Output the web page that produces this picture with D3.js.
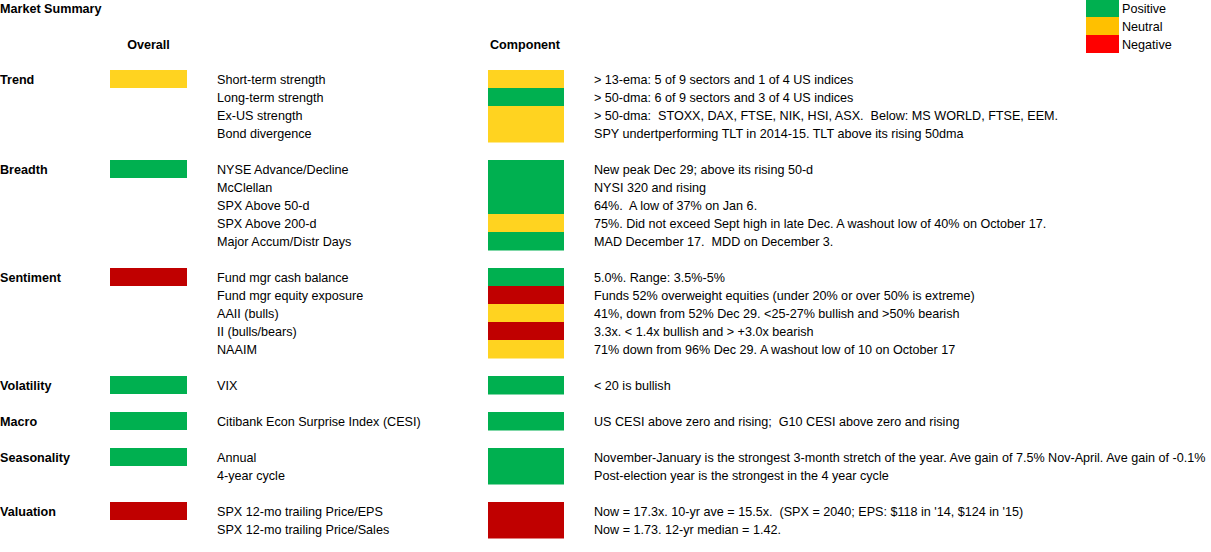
<!DOCTYPE html>
<html>
<head>
<meta charset="utf-8">
<script src="https://cdn.jsdelivr.net/npm/d3@7"></script>
<style>
  html, body { margin: 0; padding: 0; background: #fff; }
  svg { display: block; }
  text { font-family: "Liberation Sans", Arial, sans-serif; fill: #000; white-space: pre; }
</style>
</head>
<body>
<svg id="chart" width="1211" height="552"></svg>
<script>
// ---- data ----
const title = "Market Summary";
const headers = ["Overall", "Component"];
const legendLabels = ["Positive", "Neutral", "Negative"];

const categories = ["Trend", "Breadth", "Sentiment", "Volatility", "Macro", "Seasonality", "Valuation"];
const overallStatus = ["Neutral", "Positive", "Negative", "Positive", "Positive", "Positive", "Negative"];

const items = [
  ["Short-term strength", "Long-term strength", "Ex-US strength", "Bond divergence"],
  ["NYSE Advance/Decline", "McClellan", "SPX Above 50-d", "SPX Above 200-d", "Major Accum/Distr Days"],
  ["Fund mgr cash balance", "Fund mgr equity exposure", "AAII (bulls)", "II (bulls/bears)", "NAAIM"],
  ["VIX"],
  ["Citibank Econ Surprise Index (CESI)"],
  ["Annual", "4-year cycle"],
  ["SPX 12-mo trailing Price/EPS", "SPX 12-mo trailing Price/Sales"]
];

const componentStatus = [
  ["Neutral", "Positive", "Neutral", "Neutral"],
  ["Positive", "Positive", "Positive", "Neutral", "Positive"],
  ["Positive", "Negative", "Neutral", "Negative", "Neutral"],
  ["Positive"],
  ["Positive"],
  ["Positive", "Positive"],
  ["Negative", "Negative"]
];

const descriptions = [
  ["> 13-ema: 5 of 9 sectors and 1 of 4 US indices",
   "> 50-dma: 6 of 9 sectors and 3 of 4 US indices",
   "> 50-dma:  STOXX, DAX, FTSE, NIK, HSI, ASX.  Below: MS WORLD, FTSE, EEM.",
   "SPY undertperforming TLT in 2014-15. TLT above its rising 50dma"],
  ["New peak Dec 29; above its rising 50-d",
   "NYSI 320 and rising",
   "64%.  A low of 37% on Jan 6.",
   "75%. Did not exceed Sept high in late Dec. A washout low of 40% on October 17.",
   "MAD December 17.  MDD on December 3."],
  ["5.0%. Range: 3.5%-5%",
   "Funds 52% overweight equities (under 20% or over 50% is extreme)",
   "41%, down from 52% Dec 29. <25-27% bullish and >50% bearish",
   "3.3x. < 1.4x bullish and > +3.0x bearish",
   "71% down from 96% Dec 29. A washout low of 10 on October 17"],
  ["< 20 is bullish"],
  ["US CESI above zero and rising;  G10 CESI above zero and rising"],
  ["November-January is the strongest 3-month stretch of the year. Ave gain of 7.5% Nov-April. Ave gain of -0.1%",
   "Post-election year is the strongest in the 4 year cycle"],
  ["Now = 17.3x. 10-yr ave = 15.5x.  (SPX = 2040; EPS: $118 in '14, $124 in '15)",
   "Now = 1.73. 12-yr median = 1.42."]
];

// ---- build rows (one blank row between groups) ----
const rows = [];
let r = 0;
categories.forEach((cat, g) => {
  items[g].forEach((it, k) => {
    rows.push({ row: r, group: g, first: k === 0, category: cat, overall: overallStatus[g],
                item: it, status: componentStatus[g][k], desc: descriptions[g][k] });
    r++;
  });
  r++;
});
const nRows = r - 1;

// ---- scales ----
const statusColor = d3.scaleOrdinal()
  .domain(legendLabels)
  .range(["#00B050", "#FFD320", "#C00000"]);
const legendColor = d3.scaleOrdinal()
  .domain(legendLabels)
  .range(["#00B050", "#FFC000", "#FF0000"]);

const y = d3.scaleBand().domain(d3.range(nRows)).range([70, 70 + 18 * nRows]).paddingInner(0);
const col = { category: 0, overallX: 110, overallW: 77, item: 217, compX: 488, compW: 76, desc: 594 };

const svg = d3.select("#chart");
const fs = 12.6;
const dy = "0.42em";

// title
svg.append("text").attr("x", 0).attr("y", 8).attr("dy", dy)
  .attr("font-size", fs).attr("font-weight", "bold").text(title);

// column headers
svg.append("text").attr("x", col.overallX + col.overallW / 2).attr("y", 44).attr("dy", dy)
  .attr("text-anchor", "middle").attr("font-size", fs).attr("font-weight", "bold").text(headers[0]);
svg.append("text").attr("x", col.compX + col.compW / 2 - 1).attr("y", 44).attr("dy", dy)
  .attr("text-anchor", "middle").attr("font-size", fs).attr("font-weight", "bold").text(headers[1]);

// legend
const ly = d3.scaleBand().domain(legendLabels).range([-1, 53]);
const lg = svg.append("g");
lg.selectAll("rect").data(legendLabels).join("rect")
  .attr("x", 1086).attr("y", d => ly(d)).attr("width", 33).attr("height", ly.bandwidth())
  .attr("fill", d => legendColor(d));
lg.selectAll("text").data(legendLabels).join("text")
  .attr("x", 1122).attr("y", d => ly(d) + ly.bandwidth() / 2).attr("dy", dy)
  .attr("font-size", fs).text(d => d);

// category labels + overall boxes
const firsts = rows.filter(d => d.first);
svg.append("g").selectAll("text").data(firsts).join("text")
  .attr("x", col.category).attr("y", d => y(d.row) + y.bandwidth() / 2).attr("dy", dy)
  .attr("font-size", fs).attr("font-weight", "bold").text(d => d.category);
svg.append("g").selectAll("rect").data(firsts).join("rect")
  .attr("x", col.overallX).attr("y", d => y(d.row)).attr("width", col.overallW).attr("height", y.bandwidth())
  .attr("fill", d => statusColor(d.overall));

// items
svg.append("g").selectAll("text").data(rows).join("text")
  .attr("x", col.item).attr("y", d => y(d.row) + y.bandwidth() / 2).attr("dy", dy)
  .attr("font-size", fs).text(d => d.item);

// component boxes
svg.append("g").selectAll("rect").data(rows).join("rect")
  .attr("x", col.compX).attr("y", d => y(d.row)).attr("width", col.compW).attr("height", y.bandwidth() + 0.5)
  .attr("fill", d => statusColor(d.status));

// descriptions
svg.append("g").selectAll("text").data(rows).join("text")
  .attr("x", col.desc).attr("y", d => y(d.row) + y.bandwidth() / 2).attr("dy", dy)
  .attr("font-size", fs).text(d => d.desc);
</script>
</body>
</html>
